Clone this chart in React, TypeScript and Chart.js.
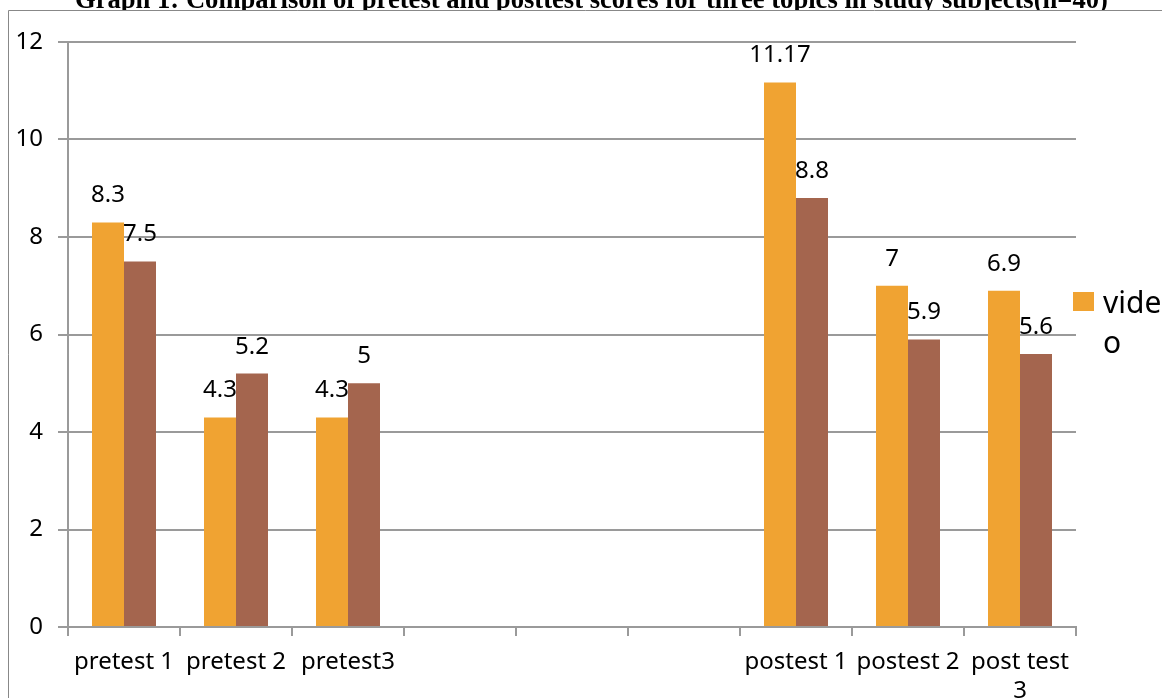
import React, { useEffect, useRef } from "react";
import { Chart, registerables } from "chart.js";

Chart.register(...registerables);

const TITLE =
  "Graph 1: Comparison of pretest and posttest scores for three topics in study subjects(n=40)";
const CATEGORIES: (string | string[])[] = [
  "pretest 1",
  "pretest 2",
  "pretest3",
  "",
  "",
  "",
  "postest 1",
  "postest 2",
  ["post test", "3"],
];
const VIDEO_SCORES: (number | null)[] = [8.3, 4.3, 4.3, null, null, null, 11.17, 7, 6.9];
const OTHER_SCORES: (number | null)[] = [7.5, 5.2, 5, null, null, null, 8.8, 5.9, 5.6];
const Y_TICKS = [0, 2, 4, 6, 8, 10, 12];
const SERIES_NAMES = ["video", ""];

const ORANGE = "#F0A332";
const BROWN = "#A4654E";
const GRID = "#9a9a9a";
const FONT = "'Noto Sans', 'Liberation Sans', sans-serif";

const framePlugin = {
  id: "frame",
  beforeDraw(chart: any) {
    const ctx = chart.ctx;
    const W = chart.width;
    const H = chart.height;
    ctx.save();
    ctx.fillStyle = "#fff";
    ctx.fillRect(0, 0, W, H);
    // title (partly cut off at top)
    ctx.fillStyle = "#000";
    ctx.font = "bold 100px 'Liberation Serif', serif";
    const w100 = ctx.measureText(TITLE).width;
    const targetW = 1033;
    const size = (100 * targetW) / w100;
    ctx.font = `bold ${size}px 'Liberation Serif', serif`;
    ctx.textAlign = "left";
    ctx.textBaseline = "alphabetic";
    ctx.fillText(TITLE, 75, 8);
    // chart frame
    ctx.fillStyle = "#fff";
    ctx.fillRect(8, 10.5, W, H);
    ctx.strokeStyle = "#888";
    ctx.lineWidth = 1;
    ctx.beginPath();
    ctx.moveTo(8.5, H + 5);
    ctx.lineTo(8.5, 10.5);
    ctx.lineTo(W + 5, 10.5);
    ctx.stroke();
    ctx.restore();
  },
};

const valueLabelPlugin = {
  id: "valueLabels",
  afterDatasetsDraw(chart: any) {
    const ctx = chart.ctx;
    ctx.save();
    ctx.fillStyle = "#000";
    ctx.font = `24px ${FONT}`;
    ctx.textAlign = "center";
    ctx.textBaseline = "alphabetic";
    chart.data.datasets.forEach((ds: any, i: number) => {
      const meta = chart.getDatasetMeta(i);
      meta.data.forEach((el: any, j: number) => {
        const v = ds.data[j];
        if (v === null || v === undefined) return;
        ctx.fillText(String(v), el.x, el.y - 20);
      });
    });
    ctx.restore();
  },
};

const legendPlugin = {
  id: "customLegend",
  afterDraw(chart: any) {
    const ctx = chart.ctx;
    const ds = chart.data.datasets[0];
    ctx.save();
    ctx.fillStyle = ds.backgroundColor;
    ctx.fillRect(1073, 292, 21, 19);
    ctx.fillStyle = "#000";
    ctx.font = `30px ${FONT}`;
    ctx.textAlign = "left";
    ctx.textBaseline = "alphabetic";
    // wrap label by characters into the available width
    const maxW = 62;
    const lines: string[] = [];
    let cur = "";
    for (const ch of String(ds.label)) {
      if (cur && ctx.measureText(cur + ch).width > maxW) {
        lines.push(cur);
        cur = ch;
      } else {
        cur += ch;
      }
    }
    if (cur) lines.push(cur);
    lines.forEach((ln, k) => ctx.fillText(ln, 1103, 313 + k * 40));
    ctx.restore();
  },
};

export default function App() {
  const ref = useRef<HTMLCanvasElement | null>(null);

  useEffect(() => {
    document.body.style.margin = "0";
    const canvas = ref.current;
    if (!canvas) return;
    const chart = new Chart(canvas, {
      type: "bar",
      data: {
        labels: CATEGORIES as any,
        datasets: [
          {
            label: SERIES_NAMES[0],
            data: VIDEO_SCORES,
            backgroundColor: ORANGE,
            categoryPercentage: 0.5714,
            barPercentage: 1,
          },
          {
            label: SERIES_NAMES[1],
            data: OTHER_SCORES,
            backgroundColor: BROWN,
            categoryPercentage: 0.5714,
            barPercentage: 1,
          },
        ],
      },
      options: {
        animation: false,
        responsive: false,
        devicePixelRatio: 1,
        layout: { padding: { top: 42, right: 86, left: 0, bottom: 0 } },
        plugins: {
          legend: { display: false },
          title: { display: false },
          tooltip: { enabled: false },
        },
        scales: {
          x: {
            type: "category",
            offset: true,
            grid: {
              display: true,
              offset: true,
              drawOnChartArea: false,
              drawTicks: true,
              tickLength: 9,
              color: GRID,
              lineWidth: 2,
            },
            border: { display: true, color: GRID, width: 2 },
            ticks: {
              font: { family: FONT, size: 24 },
              color: "#000",
              padding: 12,
              maxRotation: 0,
              minRotation: 0,
              autoSkip: false,
            },
            afterFit: (s: any) => {
              s.height = 71;
            },
          },
          y: {
            min: 0,
            max: 12,
            afterBuildTicks: (s: any) => {
              s.ticks = Y_TICKS.map((v) => ({ value: v }));
            },
            ticks: {
              font: { family: FONT, size: 24 },
              color: "#000",
              padding: 15,
            },
            grid: {
              color: GRID,
              lineWidth: 2,
              drawTicks: true,
              tickLength: 10,
            },
            border: { display: true, color: GRID, width: 2 },
            afterFit: (s: any) => {
              s.width = 68;
            },
          },
        },
      } as any,
      plugins: [framePlugin, valueLabelPlugin, legendPlugin],
    });
    return () => chart.destroy();
  }, []);

  return (
    <div style={{ width: 1162, height: 698, overflow: "hidden" }}>
      <canvas ref={ref} width={1162} height={698} style={{ display: "block" }} />
    </div>
  );
}
